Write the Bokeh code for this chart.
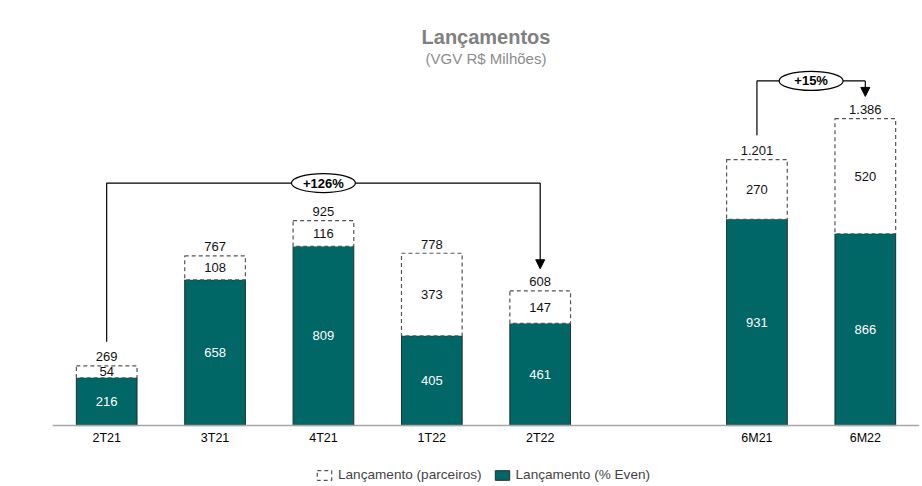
from bokeh.plotting import figure
from bokeh.models import Range1d, Legend, LegendItem, Label, ColumnDataSource, Arrow, NormalHead, Span
from bokeh.embed import file_html
from bokeh.resources import INLINE
from bokeh.core.properties import value

slots = ["2T21", "3T21", "4T21", "1T22", "2T22", "", "6M21", "6M22"]
categories = ["2T21", "3T21", "4T21", "1T22", "2T22", "6M21", "6M22"]
even = [216, 658, 809, 405, 461, 931, 866]
parceiros = [54, 108, 116, 373, 147, 270, 520]
totais = [269, 767, 925, 778, 608, 1201, 1386]
comparacoes = [("2T21", "2T22", "+126%"), ("6M21", "6M22", "+15%")]

TEAL = "#006666"
FONT = "Liberation Sans"
F = value(FONT)


def fmt(v):
    return f"{v:,}".replace(",", ".")


xpos = [slots.index(c) for c in categories]
tops = [e + p for e, p in zip(even, parceiros)]

src = ColumnDataSource(dict(
    x=xpos, even=even, top=tops, parc=parceiros,
    even_mid=[e / 2 for e in even],
    parc_mid=[e + p / 2 for e, p in zip(even, parceiros)],
    even_lbl=[fmt(v) for v in even],
    parc_lbl=[fmt(v) for v in parceiros],
    tot_y=[t + 20 for t in tops],
    tot_lbl=[fmt(v) for v in totais],
    cat=categories,
    cat_y=[-54] * len(categories),
))

p = figure(width=922, height=486, output_backend="svg", toolbar_location=None,
           x_range=Range1d(-0.5, len(slots) - 0.5), y_range=Range1d(-275, 1919),
           min_border_left=52, min_border_right=3, min_border_top=0, min_border_bottom=0)
p.outline_line_color = None
p.xgrid.visible = False
p.ygrid.visible = False
p.xaxis.visible = False
p.yaxis.visible = False
p.background_fill_color = "white"

# baseline (category axis)
p.add_layout(Span(location=0, dimension="width", line_color="#a6a6a6", line_width=1.5))
p.text(x="x", y="cat_y", text="cat", source=src, text_color="black",
       text_font=F, text_font_size="12.5px", text_align="center", text_baseline="middle")

W = 0.56
r_even = p.vbar(x="x", top="even", bottom=0, width=W, source=src,
                fill_color=TEAL, line_color="#1f2f2f", line_width=1)
r_parc = p.vbar(x="x", top="top", bottom="even", width=W, source=src,
                fill_color="white", line_color="#555555", line_width=1.2, line_dash="4 3")

p.text(x="x", y="even_mid", text="even_lbl", source=src, text_color="white",
       text_font=F, text_font_size="13px", text_align="center", text_baseline="middle")
p.text(x="x", y="parc_mid", text="parc_lbl", source=src, text_color="#111111",
       text_font=F, text_font_size="13px", text_align="center", text_baseline="middle")
p.text(x="x", y="tot_y", text="tot_lbl", source=src, text_color="#111111",
       text_font=F, text_font_size="13px", text_align="center", text_baseline="bottom")

# comparison brackets
for a, b, lbl in comparacoes:
    ia, ib = categories.index(a), categories.index(b)
    xa, xb = xpos[ia], xpos[ib]
    level = max(totais[ia:ib + 1]) + 170
    ya = totais[ia] + 110
    yb = totais[ib] + 100
    p.line([xa, xa, xb, xb], [ya, level, level, level], line_color="black", line_width=1.2)
    p.add_layout(Arrow(end=NormalHead(size=9, fill_color="black", line_color="black"),
                       x_start=xb, y_start=level, x_end=xb, y_end=yb,
                       line_color="black", line_width=1.2))
    xm = (xa + xb) / 2
    p.ellipse(x=[xm], y=[level], width=64, height=19, width_units="screen", height_units="screen",
              fill_color="white", line_color="black", line_width=1.2)
    p.text(x=[xm], y=[level], text=[lbl], text_font=F, text_font_size="13px",
           text_font_style="bold", text_align="center", text_baseline="middle", text_color="black")

xc = (len(slots) - 1) / 2
p.add_layout(Label(x=xc, y=1755, text="Lançamentos", text_font=FONT, text_font_size="20px",
                   text_font_style="bold", text_color="#808080", text_align="center",
                   text_baseline="middle"))
p.add_layout(Label(x=xc, y=1655, text="(VGV R$ Milhões)", text_font=FONT, text_font_size="15px",
                   text_color="#8c8c8c", text_align="center", text_baseline="middle"))

legend = Legend(items=[LegendItem(label="Lançamento (parceiros)", renderers=[r_parc]),
                       LegendItem(label="Lançamento (% Even)", renderers=[r_even])],
                orientation="horizontal", location=(263, 4),
                label_text_font=FONT, label_text_font_size="13.6px",
                glyph_width=18, glyph_height=12, spacing=11, label_standoff=5,
                border_line_color=None, background_fill_alpha=0, padding=2, margin=0)
p.add_layout(legend)

open("out.html", "w").write(file_html(p, INLINE))
